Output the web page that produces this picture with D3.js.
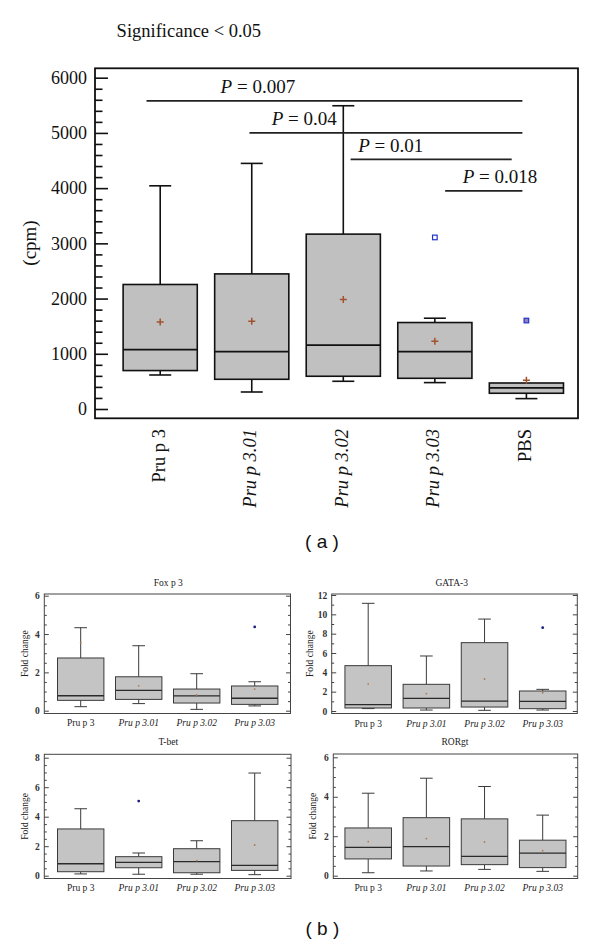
<!DOCTYPE html>
<html><head><meta charset="utf-8">
<script src="https://cdn.jsdelivr.net/npm/d3@7/dist/d3.min.js"></script>
<style>body{margin:0;background:#fff}svg{display:block}</style>
</head><body>
<svg id="c" width="600" height="945"></svg>
<script>
// ---------- DATA: panel (a) ----------
const mainCategories = ["Pru p 3", "Pru p 3.01", "Pru p 3.02", "Pru p 3.03", "PBS"];
const mainLow    = [616, 308, 502, 478, 188];
const mainQ1     = [696, 538, 593, 556, 285];
const mainMedian = [1077, 1040, 1155, 1040, 381];
const mainQ3     = [2255, 2447, 3167, 1566, 471];
const mainHigh   = [4042, 4448, 5492, 1644, 471];
const mainMean   = [1577, 1590, 1983, 1227, 520];
const mainOutliers = [[], [], [], [3107], [1602]];
const mainTicks  = [0, 1000, 2000, 3000, 4000, 5000, 6000];

const sigFrom  = ["Pru p 3", "Pru p 3.01", "Pru p 3.02", "Pru p 3.03"];
const sigTo    = ["PBS", "PBS", "PBS", "PBS"];
const sigLevel = [5580, 5000, 4520, 3950];
const sigP     = ["0.007", "0.04", "0.01", "0.018"];

// ---------- DATA: panel (b) ----------
const panelTitles = ["Fox p 3", "GATA-3", "T-bet", "RORgt"];
const panelCategories = ["Pru p 3", "Pru p 3.01", "Pru p 3.02", "Pru p 3.03"];

const foxTicks = [0, 2, 4, 6];
const foxLow  = [0.21, 0.37, 0.07, 0.25];
const foxQ1   = [0.54, 0.59, 0.40, 0.33];
const foxMed  = [0.78, 1.06, 0.77, 0.65];
const foxQ3   = [2.75, 1.77, 1.13, 1.29];
const foxHigh = [4.33, 3.39, 1.93, 1.51];
const foxMean = [3.55, 1.30, 0.82, 1.13];
const foxOut  = [[], [], [], [4.37]];

const gataTicks = [0, 2, 4, 6, 8, 10, 12];
const gataLow  = [0.25, 0.10, 0.07, 0.10];
const gataQ1   = [0.31, 0.31, 0.41, 0.24];
const gataMed  = [0.65, 1.31, 1.03, 1.00];
const gataQ3   = [4.69, 2.76, 7.07, 2.07];
const gataHigh = [11.14, 5.69, 9.51, 2.24];
const gataMean = [2.79, 1.79, 3.31, 1.89];
const gataOut  = [[], [], [], [8.62]];

const tbetTicks = [0, 2, 4, 6, 8];
const tbetLow  = [0.12, 0.10, 0.10, 0.07];
const tbetQ1   = [0.27, 0.54, 0.20, 0.36];
const tbetMed  = [0.81, 0.91, 0.95, 0.70];
const tbetQ3   = [3.17, 1.29, 1.83, 3.73];
const tbetHigh = [4.54, 1.54, 2.37, 6.96];
const tbetMean = [null, null, 1.02, 2.08];
const tbetOut  = [[], [5.06], [], []];

const rorTicks = [0, 2, 4, 6];
const rorLow  = [0.15, 0.24, 0.32, 0.22];
const rorQ1   = [0.85, 0.49, 0.56, 0.41];
const rorMed  = [1.44, 1.47, 0.98, 1.14];
const rorQ3   = [2.42, 2.94, 2.88, 1.80];
const rorHigh = [4.18, 4.94, 4.52, 3.07];
const rorMean = [1.73, 1.88, 1.71, 1.27];
const rorOut  = [[], [], [], []];

// ---------- DRAWING ----------
const SERIF = "'Liberation Serif','Times New Roman',serif";
const SANS = "'Liberation Sans',Arial,sans-serif";
const svg = d3.select("#c");
svg.append("rect").attr("width", 600).attr("height", 945).attr("fill", "#fff");

const isItalic = s => /3\.\d/.test(s);

// ----- panel (a) -----
const F = {x0: 95, x1: 578, y0: 68.3, y1: 418.3};
const y = d3.scaleLinear().domain([0, 6000]).range([409, 77.7]);
const x = d3.scalePoint().domain(mainCategories).range([160.2, 526.4]);
const bw = x.step() * 0.81;

svg.append("text").attr("x", 116.6).attr("y", 37)
  .attr("font-family", SERIF).attr("font-size", 18.5).attr("fill", "#111")
  .text("Significance < 0.05");

// axes
const gMinor = svg.append("g").attr("transform", `translate(${F.x0},0)`)
  .call(d3.axisLeft(y).tickValues(d3.range(0, 6001, 200).filter(v => v % 1000 !== 0))
    .tickSize(-7.5).tickFormat(""));
gMinor.select(".domain").remove();
gMinor.selectAll("line").attr("stroke", "#111").attr("stroke-width", 1.6);
const gMaj = svg.append("g").attr("transform", `translate(${F.x0},0)`)
  .call(d3.axisLeft(y).tickValues(mainTicks).tickSize(-13).tickPadding(8).tickFormat(d3.format("d")));
gMaj.select(".domain").remove();
gMaj.selectAll("line").attr("stroke", "#111").attr("stroke-width", 1.6);
gMaj.selectAll("text").attr("font-family", SERIF).attr("font-size", 18).attr("fill", "#111");

svg.append("text").attr("transform", "translate(29.8,243) rotate(-90)")
  .attr("text-anchor", "middle").attr("dy", "0.35em")
  .attr("font-family", SERIF).attr("font-size", 19).attr("fill", "#111").text("(cpm)");

// boxes
const capA = 11;
mainCategories.forEach((c, i) => {
  const cx = x(c);
  const g = svg.append("g");
  // whiskers
  g.append("line").attr("x1", cx).attr("x2", cx).attr("y1", y(mainQ3[i])).attr("y2", y(mainHigh[i]))
    .attr("stroke", "#111").attr("stroke-width", 1.6);
  if (mainHigh[i] > mainQ3[i])
    g.append("line").attr("x1", cx - capA).attr("x2", cx + capA).attr("y1", y(mainHigh[i])).attr("y2", y(mainHigh[i]))
      .attr("stroke", "#111").attr("stroke-width", 1.6);
  g.append("line").attr("x1", cx).attr("x2", cx).attr("y1", y(mainQ1[i])).attr("y2", y(mainLow[i]))
    .attr("stroke", "#111").attr("stroke-width", 1.6);
  g.append("line").attr("x1", cx - capA).attr("x2", cx + capA).attr("y1", y(mainLow[i])).attr("y2", y(mainLow[i]))
    .attr("stroke", "#111").attr("stroke-width", 1.6);
  g.append("rect").attr("x", cx - bw / 2).attr("width", bw)
    .attr("y", y(mainQ3[i])).attr("height", y(mainQ1[i]) - y(mainQ3[i]))
    .attr("fill", "#c0c0c0").attr("stroke", "#111").attr("stroke-width", 1.6);
  g.append("line").attr("x1", cx - bw / 2).attr("x2", cx + bw / 2).attr("y1", y(mainMedian[i])).attr("y2", y(mainMedian[i]))
    .attr("stroke", "#111").attr("stroke-width", 1.8);
  mainOutliers[i].forEach(v => {
    g.append("rect").attr("x", cx - 2.3).attr("y", y(v) - 2.3).attr("width", 4.6).attr("height", 4.6)
      .attr("fill", c === "PBS" ? "#9580c0" : "#fff").attr("stroke", "#2233cc").attr("stroke-width", 1.2);
  });
  const my = y(mainMean[i]);
  g.append("path").attr("d", `M${cx - 3.5},${my}H${cx + 3.5}M${cx},${my - 3.5}V${my + 3.5}`)
    .attr("stroke", "#a0522d").attr("stroke-width", 1.5);
});

// significance lines
const sigX1Off = [-13.7, -2.3, 7.3, 10.3];
const sigX2Off = [-4, -4, -14.7, -4];
const sigTxtOff = [60.4, 19.9, 14.9, 27.8];
sigP.forEach((p, i) => {
  const ly = y(sigLevel[i]);
  svg.append("line").attr("x1", x(sigFrom[i]) + sigX1Off[i]).attr("x2", x(sigTo[i]) + sigX2Off[i])
    .attr("y1", ly).attr("y2", ly).attr("stroke", "#222").attr("stroke-width", 1.6);
  const t = svg.append("text").attr("x", x(sigFrom[i]) + sigTxtOff[i]).attr("y", ly - 7.5)
    .attr("font-family", SERIF).attr("font-size", 19).attr("fill", "#111");
  t.append("tspan").attr("font-style", "italic").text("P");
  t.append("tspan").text(" = " + p);
});

// frame
svg.append("rect").attr("x", F.x0).attr("y", F.y0).attr("width", F.x1 - F.x0).attr("height", F.y1 - F.y0)
  .attr("fill", "none").attr("stroke", "#111").attr("stroke-width", 1.8);

// x labels
mainCategories.forEach(c => {
  svg.append("text").attr("transform", `translate(${x(c)},429) rotate(-90)`)
    .attr("text-anchor", "end").attr("dy", "0.25em")
    .attr("font-family", SERIF).attr("font-size", 18.5).attr("fill", "#111")
    .attr("font-style", isItalic(c) ? "italic" : "normal").text(c);
});

svg.append("text").attr("x", 322).attr("y", 548).attr("text-anchor", "middle")
  .attr("font-family", SANS).attr("font-size", 19).attr("fill", "#111").text("( a )");

// ----- panel (b) -----
const panels = [
  {ticks: foxTicks, minor: 0.5, low: foxLow, q1: foxQ1, med: foxMed, q3: foxQ3, high: foxHigh, mean: foxMean, out: foxOut},
  {ticks: gataTicks, minor: 1, low: gataLow, q1: gataQ1, med: gataMed, q3: gataQ3, high: gataHigh, mean: gataMean, out: gataOut},
  {ticks: tbetTicks, minor: 0.5, low: tbetLow, q1: tbetQ1, med: tbetMed, q3: tbetQ3, high: tbetHigh, mean: tbetMean, out: tbetOut},
  {ticks: rorTicks, minor: 0.5, low: rorLow, q1: rorQ1, med: rorMed, q3: rorQ3, high: rorHigh, mean: rorMean, out: rorOut}
];
const layouts = [
  {fx0: 44.3, fx1: 290.5, fy0: 594, fy1: 713.5, y0: 710.7, yTop: 595.7, c0: 80.7, c1: 254.7, tx: 168.3, ty: 586, ly: 726, ylx: 25},
  {fx0: 331.7, fx1: 577.3, fy0: 594, fy1: 713.5, y0: 711, yTop: 595, c0: 368.2, c1: 542.7, tx: 451.7, ty: 586, ly: 726.5, ylx: 310},
  {fx0: 44.3, fx1: 291, fy0: 754.3, fy1: 878.5, y0: 875.7, yTop: 757.7, c0: 80.7, c1: 254.7, tx: 168.3, ty: 745, ly: 891, ylx: 25},
  {fx0: 333.3, fx1: 577.7, fy0: 754, fy1: 878.5, y0: 875.7, yTop: 757.3, c0: 368.2, c1: 542.7, tx: 455, ty: 745, ly: 891, ylx: 313}
];

panels.forEach((P, k) => {
  const L = layouts[k];
  const tmax = d3.max(P.ticks);
  const ys = d3.scaleLinear().domain([0, tmax]).range([L.y0, L.yTop]);
  const xs = d3.scalePoint().domain(panelCategories).range([L.c0, L.c1]);
  const w = xs.step() * 0.8;
  const g = svg.append("g");
  const minorVals = d3.range(0, tmax + 1e-9, P.minor).filter(v => !P.ticks.includes(+v.toFixed(3)));

  // boxes
  const stroke = "#3a3a3a";
  panelCategories.forEach((c, i) => {
    const cx = xs(c);
    g.append("line").attr("x1", cx).attr("x2", cx).attr("y1", ys(P.q3[i])).attr("y2", ys(P.high[i]))
      .attr("stroke", stroke).attr("stroke-width", 1);
    g.append("line").attr("x1", cx - 6.3).attr("x2", cx + 6.3).attr("y1", ys(P.high[i])).attr("y2", ys(P.high[i]))
      .attr("stroke", stroke).attr("stroke-width", 1);
    g.append("line").attr("x1", cx).attr("x2", cx).attr("y1", ys(P.q1[i])).attr("y2", ys(P.low[i]))
      .attr("stroke", stroke).attr("stroke-width", 1);
    g.append("line").attr("x1", cx - 6.3).attr("x2", cx + 6.3).attr("y1", ys(P.low[i])).attr("y2", ys(P.low[i]))
      .attr("stroke", stroke).attr("stroke-width", 1);
    g.append("rect").attr("x", cx - w / 2).attr("width", w)
      .attr("y", ys(P.q3[i])).attr("height", ys(P.q1[i]) - ys(P.q3[i]))
      .attr("fill", "#c4c4c4").attr("stroke", stroke).attr("stroke-width", 1);
    g.append("line").attr("x1", cx - w / 2).attr("x2", cx + w / 2).attr("y1", ys(P.med[i])).attr("y2", ys(P.med[i]))
      .attr("stroke", "#2a2a2a").attr("stroke-width", 1.3);
    if (P.mean[i] != null)
      g.append("circle").attr("cx", cx).attr("cy", ys(P.mean[i])).attr("r", 0.9).attr("fill", "#b07a50");
    P.out[i].forEach(v => g.append("circle").attr("cx", cx).attr("cy", ys(v)).attr("r", 1.4).attr("fill", "#1c1c80"));
  });

  // frame
  g.append("rect").attr("x", L.fx0).attr("y", L.fy0).attr("width", L.fx1 - L.fx0).attr("height", L.fy1 - L.fy0)
    .attr("fill", "none").attr("stroke", "#444").attr("stroke-width", 1);

  // left axis
  const la = g.append("g").attr("transform", `translate(${L.fx0},0)`)
    .call(d3.axisLeft(ys).tickValues(P.ticks).tickSize(-4.5).tickPadding(4.5).tickFormat(d3.format("d")));
  la.select(".domain").remove();
  la.selectAll("line").attr("stroke", "#444");
  la.selectAll("text").attr("font-family", SERIF).attr("font-size", 9.5).attr("font-weight", "bold").attr("fill", "#333");
  const lm = g.append("g").attr("transform", `translate(${L.fx0},0)`)
    .call(d3.axisLeft(ys).tickValues(minorVals).tickSize(-2.5).tickFormat(""));
  lm.select(".domain").remove();
  lm.selectAll("line").attr("stroke", "#444");
  // right axis
  const ra = g.append("g").attr("transform", `translate(${L.fx1},0)`)
    .call(d3.axisRight(ys).tickValues(P.ticks).tickSize(-4.5).tickFormat(""));
  ra.select(".domain").remove();
  ra.selectAll("line").attr("stroke", "#444");
  const rm = g.append("g").attr("transform", `translate(${L.fx1},0)`)
    .call(d3.axisRight(ys).tickValues(minorVals).tickSize(-2.5).tickFormat(""));
  rm.select(".domain").remove();
  rm.selectAll("line").attr("stroke", "#444");

  // title
  g.append("text").attr("x", L.tx).attr("y", L.ty).attr("text-anchor", "middle")
    .attr("font-family", SERIF).attr("font-size", 9.5).attr("fill", "#222").text(panelTitles[k]);
  // y label
  g.append("text").attr("transform", `translate(${L.ylx},${(L.fy0 + L.fy1) / 2}) rotate(-90)`)
    .attr("text-anchor", "middle").attr("dy", "0.35em")
    .attr("font-family", SERIF).attr("font-size", 9.5).attr("fill", "#222").text("Fold change");
  // x labels
  panelCategories.forEach(c => {
    g.append("text").attr("x", xs(c)).attr("y", L.ly).attr("text-anchor", "middle")
      .attr("font-family", SERIF).attr("font-size", 9.5).attr("fill", "#222")
      .attr("font-style", isItalic(c) ? "italic" : "normal").text(c);
  });
});

svg.append("text").attr("x", 322.4).attr("y", 935).attr("text-anchor", "middle")
  .attr("font-family", SANS).attr("font-size", 19).attr("fill", "#111").text("( b )");
</script>
</body></html>
